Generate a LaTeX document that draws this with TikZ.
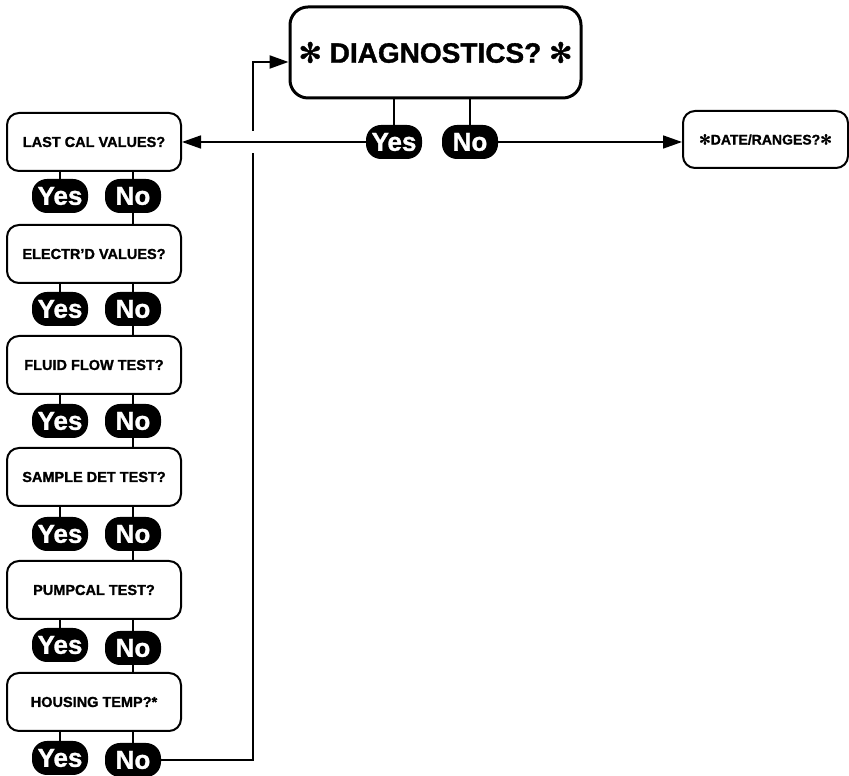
\documentclass[tikz,border=0pt]{standalone}
\usepackage{fontspec}
\setmainfont{Liberation Sans}[BoldFeatures={FakeBold=1.2}]
\newfontfamily\symbfont{DejaVu Sans}[BoldFeatures={FakeBold=1.2}]
\usetikzlibrary{arrows.meta}
\newcommand{\spk}{{\symbfont ✻}}

\tikzset{
	menubox/.style={draw,line width=2pt,rounded corners=12pt,minimum width=174pt,minimum height=58pt,inner sep=0pt,font=\fontsize{14.5}{17}\selectfont\bfseries},
	answer/.style={fill=black,text=white,rounded corners=15pt,minimum width=56pt,minimum height=34pt,inner sep=0pt,font=\fontsize{26}{28}\selectfont\bfseries},
	link/.style={line width=1.6pt},
	nolink/.style={line width=2.6pt},
	arr/.style={-{Triangle[length=19pt,width=13pt]}},
}

\begin{document}
\begin{tikzpicture}[x=1pt,y=1pt]
			\useasboundingbox (0,0) rectangle (849,776);
			% diagnostics
			\node[draw,line width=3pt,rounded corners=18pt,minimum width=291pt,minimum height=91pt,inner sep=0pt,font=\fontsize{28}{32}\selectfont\bfseries] (diag) at (435.5,723.5) {\spk\ DIAGNOSTICS? \spk};
			\node[answer] (yes0) at (394,634) {Yes};
			\node[answer] (no0) at (470,634) {No};
			\node[menubox,minimum width=165pt,minimum height=57pt,font=\fontsize{14}{16}\selectfont\bfseries] (date) at (765.5,636.5) {\spk DATE/RANGES?\spk};
			\draw[link] (diag.south -| yes0) -- (yes0.north);
			\draw[link] (diag.south -| no0) -- (no0.north);
			\draw[link,arr] (no0.east) -- (date.west |- no0);
			% menu column
			\node[menubox] (last) at (94,634) {LAST CAL VALUES?};
			\node[answer] (yes1) at (60,580) {Yes};
			\node[answer] (no1) at (133,580) {No};
			\node[menubox] (electrd) at (94,522) {ELECTR'D VALUES?};
			\node[answer] (yes2) at (60,467) {Yes};
			\node[answer] (no2) at (133,467) {No};
			\node[menubox] (fluid) at (94,411) {FLUID FLOW TEST?};
			\node[answer] (yes3) at (60,355) {Yes};
			\node[answer] (no3) at (133,355) {No};
			\node[menubox] (sample) at (94,299) {SAMPLE DET TEST?};
			\node[answer] (yes4) at (60,242) {Yes};
			\node[answer] (no4) at (133,242) {No};
			\node[menubox] (pumpcal) at (94,186) {PUMPCAL TEST?};
			\node[answer] (yes5) at (60,131) {Yes};
			\node[answer] (no5) at (133,128) {No};
			\node[menubox] (housing) at (94,74) {HOUSING TEMP?*};
			\node[answer] (yes6) at (60,18) {Yes};
			\node[answer] (no6) at (133,16) {No};
			% yes stubs
			\draw[link] (last.south -| yes1) -- (yes1.north);
			\draw[link] (electrd.south -| yes2) -- (yes2.north);
			\draw[link] (fluid.south -| yes3) -- (yes3.north);
			\draw[link] (sample.south -| yes4) -- (yes4.north);
			\draw[link] (pumpcal.south -| yes5) -- (yes5.north);
			\draw[link] (housing.south -| yes6) -- (yes6.north);
			% no chain
			\draw[nolink] (last.south -| no1) -- (no1.north);
			\draw[nolink] (no1.south) -- (electrd.north -| no1);
			\draw[nolink] (electrd.south -| no2) -- (no2.north);
			\draw[nolink] (no2.south) -- (fluid.north -| no2);
			\draw[nolink] (fluid.south -| no3) -- (no3.north);
			\draw[nolink] (no3.south) -- (sample.north -| no3);
			\draw[nolink] (sample.south -| no4) -- (no4.north);
			\draw[nolink] (no4.south) -- (pumpcal.north -| no4);
			\draw[nolink] (pumpcal.south -| no5) -- (no5.north);
			\draw[nolink] (no5.south) -- (housing.north -| no5);
			\draw[link] (housing.south -| no6) -- (no6.north);
			% back to diagnostics
			\coordinate (back) at (253,714);
			\draw[line width=2.2pt,arr] (no6.east) -| (back) -- (diag.west |- back);
			\fill[white] (248,623) rectangle (258,645);
			\draw[link,arr] (yes0.west) -- (last.east |- yes0);
		\end{tikzpicture}
\end{document}
